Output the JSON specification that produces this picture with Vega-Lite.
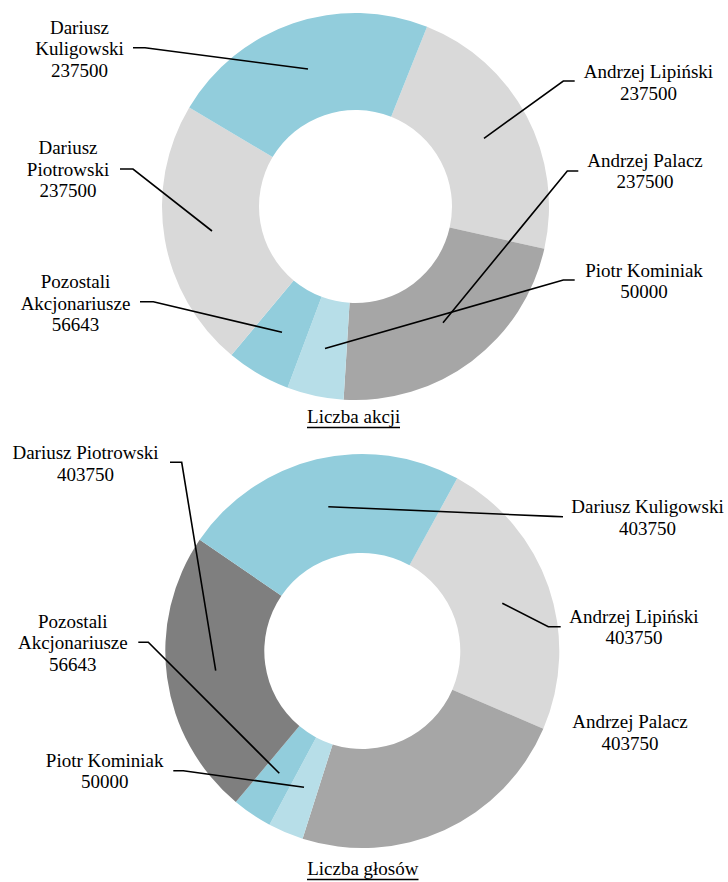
{
  "$schema": "https://vega.github.io/schema/vega-lite/v6.json",
  "width": 728,
  "height": 882,
  "padding": 0,
  "autosize": {"type": "fit", "contains": "padding"},
  "background": "white",
  "config": {"view": {"stroke": null}},
  "datasets": {
    "akcje": [
      {"name": "Andrzej Lipiński", "value": 237500, "rank": 1},
      {"name": "Andrzej Palacz", "value": 237500, "rank": 2},
      {"name": "Piotr Kominiak", "value": 50000, "rank": 3},
      {"name": "Pozostali Akcjonariusze", "value": 56643, "rank": 4},
      {"name": "Dariusz Piotrowski", "value": 237500, "rank": 5},
      {"name": "Dariusz Kuligowski", "value": 237500, "rank": 6}
    ],
    "glosy": [
      {"name": "Andrzej Lipiński", "value": 403750, "rank": 1},
      {"name": "Andrzej Palacz", "value": 403750, "rank": 2},
      {"name": "Piotr Kominiak", "value": 50000, "rank": 3},
      {"name": "Pozostali Akcjonariusze", "value": 56643, "rank": 4},
      {"name": "Dariusz Piotrowski", "value": 403750, "rank": 5},
      {"name": "Dariusz Kuligowski", "value": 403750, "rank": 6}
    ],
    "labels": [
      {"text": "Dariusz\nKuligowski\n237500", "x": 79.5, "y": 33.5},
      {"text": "Dariusz\nPiotrowski\n237500", "x": 68, "y": 154.3},
      {"text": "Pozostali\nAkcjonariusze\n56643", "x": 75.5, "y": 288.3},
      {"text": "Piotr Kominiak\n50000", "x": 644, "y": 276.7},
      {"text": "Andrzej Palacz\n237500", "x": 645, "y": 166.7},
      {"text": "Andrzej Lipiński\n237500", "x": 648.5, "y": 78.3},
      {"text": "Dariusz Piotrowski\n403750", "x": 85.5, "y": 459.3},
      {"text": "Dariusz Kuligowski\n403750", "x": 647.5, "y": 513.3},
      {"text": "Andrzej Lipiński\n403750", "x": 634, "y": 622.7},
      {"text": "Andrzej Palacz\n403750", "x": 630, "y": 728.3},
      {"text": "Pozostali\nAkcjonariusze\n56643", "x": 72.8, "y": 627.7},
      {"text": "Piotr Kominiak\n50000", "x": 104.7, "y": 766.7}
    ],
    "leaders": [
      {"id": 1, "seq": 1, "x": 133, "y": 47.7}, {"id": 1, "seq": 2, "x": 145, "y": 47.7}, {"id": 1, "seq": 3, "x": 308, "y": 69},
      {"id": 2, "seq": 1, "x": 120, "y": 169}, {"id": 2, "seq": 2, "x": 133, "y": 169}, {"id": 2, "seq": 3, "x": 212, "y": 231},
      {"id": 3, "seq": 1, "x": 140, "y": 301.7}, {"id": 3, "seq": 2, "x": 153.3, "y": 301.7}, {"id": 3, "seq": 3, "x": 282, "y": 332.3},
      {"id": 4, "seq": 1, "x": 574.7, "y": 280}, {"id": 4, "seq": 2, "x": 563.3, "y": 280}, {"id": 4, "seq": 3, "x": 325, "y": 348.5},
      {"id": 5, "seq": 1, "x": 578.3, "y": 171}, {"id": 5, "seq": 2, "x": 567.3, "y": 171}, {"id": 5, "seq": 3, "x": 443, "y": 322.7},
      {"id": 6, "seq": 1, "x": 574.7, "y": 81}, {"id": 6, "seq": 2, "x": 563.3, "y": 81}, {"id": 6, "seq": 3, "x": 484, "y": 138.3},
      {"id": 7, "seq": 1, "x": 170, "y": 462.3}, {"id": 7, "seq": 2, "x": 181.7, "y": 462.3}, {"id": 7, "seq": 3, "x": 215.7, "y": 670.7},
      {"id": 8, "seq": 1, "x": 563, "y": 516.7}, {"id": 8, "seq": 2, "x": 553, "y": 516.4}, {"id": 8, "seq": 3, "x": 328.3, "y": 506.7},
      {"id": 9, "seq": 1, "x": 560.7, "y": 626.7}, {"id": 9, "seq": 2, "x": 548.3, "y": 626.7}, {"id": 9, "seq": 3, "x": 502.3, "y": 603.3},
      {"id": 11, "seq": 1, "x": 138.3, "y": 642.3}, {"id": 11, "seq": 2, "x": 148.3, "y": 642.3}, {"id": 11, "seq": 3, "x": 279.3, "y": 773.3},
      {"id": 12, "seq": 1, "x": 173.3, "y": 770.7}, {"id": 12, "seq": 2, "x": 183.3, "y": 770.7}, {"id": 12, "seq": 3, "x": 304, "y": 787.3}
    ],
    "titles": [
      {"text": "Liczba akcji", "x": 353.7, "y": 423.3, "ux1": 307, "ux2": 400, "uy": 427.5},
      {"text": "Liczba głosów", "x": 362.8, "y": 875, "ux1": 307, "ux2": 418.5, "uy": 879.5}
    ]
  },
  "layer": [
    {
      "data": {"name": "akcje"},
      "mark": {"type": "arc", "radius": 193.5, "radius2": 96.5},
      "encoding": {
        "theta": {"field": "value", "type": "quantitative", "stack": true, "scale": {"range": [0.3787, 6.6619]}},
        "order": {"field": "rank", "type": "quantitative"},
        "color": {
          "field": "name", "type": "nominal", "legend": null,
          "scale": {
            "domain": ["Andrzej Lipiński", "Andrzej Palacz", "Piotr Kominiak", "Pozostali Akcjonariusze", "Dariusz Piotrowski", "Dariusz Kuligowski"],
            "range": ["#d9d9d9", "#a6a6a6", "#b7dee8", "#92cddc", "#d9d9d9", "#92cddc"]
          }
        },
        "x": {"datum": 355.5, "type": "quantitative", "scale": {"domain": [0, 728], "nice": false, "zero": false}, "axis": null},
        "y": {"datum": 206.5, "type": "quantitative", "scale": {"domain": [0, 882], "nice": false, "zero": false, "reverse": true}, "axis": null}
      }
    },
    {
      "data": {"name": "glosy"},
      "mark": {"type": "arc", "radius": 197, "radius2": 98},
      "encoding": {
        "theta": {"field": "value", "type": "quantitative", "stack": true, "scale": {"range": [0.5027, 6.7859]}},
        "order": {"field": "rank", "type": "quantitative"},
        "color": {
          "field": "name", "type": "nominal", "legend": null,
          "scale": {
            "domain": ["Andrzej Lipiński", "Andrzej Palacz", "Piotr Kominiak", "Pozostali Akcjonariusze", "Dariusz Piotrowski", "Dariusz Kuligowski"],
            "range": ["#d9d9d9", "#a6a6a6", "#b7dee8", "#92cddc", "#7f7f7f", "#92cddc"]
          }
        },
        "x": {"datum": 362.3, "type": "quantitative", "axis": null},
        "y": {"datum": 651, "type": "quantitative", "axis": null}
      }
    },
    {
      "data": {"name": "leaders"},
      "mark": {"type": "line", "color": "black", "strokeWidth": 1.6, "interpolate": "linear"},
      "encoding": {
        "x": {"field": "x", "type": "quantitative", "axis": null},
        "y": {"field": "y", "type": "quantitative", "axis": null},
        "detail": {"field": "id", "type": "nominal"},
        "order": {"field": "seq", "type": "quantitative"}
      }
    },
    {
      "data": {"name": "labels"},
      "mark": {"type": "text", "font": "Liberation Serif", "fontSize": 19, "lineHeight": 21.6, "lineBreak": "\n", "align": "center", "baseline": "alphabetic", "color": "black"},
      "encoding": {
        "x": {"field": "x", "type": "quantitative", "axis": null},
        "y": {"field": "y", "type": "quantitative", "axis": null},
        "text": {"field": "text", "type": "nominal"}
      }
    },
    {
      "data": {"name": "titles"},
      "mark": {"type": "text", "font": "Liberation Serif", "fontSize": 19, "align": "center", "baseline": "alphabetic", "color": "black"},
      "encoding": {
        "x": {"field": "x", "type": "quantitative", "axis": null},
        "y": {"field": "y", "type": "quantitative", "axis": null},
        "text": {"field": "text", "type": "nominal"}
      }
    },
    {
      "data": {"name": "titles"},
      "mark": {"type": "rule", "color": "black", "strokeWidth": 1.6},
      "encoding": {
        "x": {"field": "ux1", "type": "quantitative", "axis": null},
        "x2": {"field": "ux2"},
        "y": {"field": "uy", "type": "quantitative", "axis": null}
      }
    }
  ],
  "resolve": {"scale": {"theta": "independent", "color": "independent"}}
}
